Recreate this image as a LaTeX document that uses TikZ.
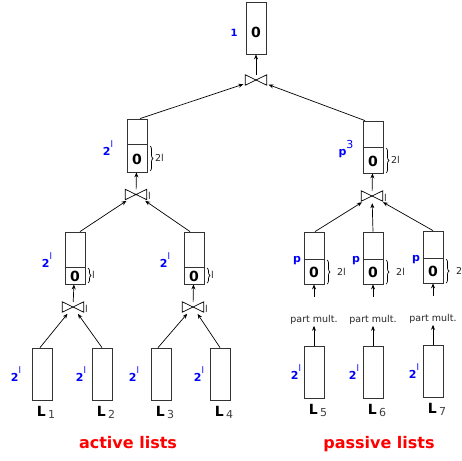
\documentclass[tikz,border=0pt]{standalone}
\usepackage{fontspec}
\setmainfont{DejaVu Sans}
\usetikzlibrary{arrows.meta,calc,decorations.pathreplacing}
\begin{document}
\begin{tikzpicture}[x=1pt,y=-1pt,
  lst/.style={draw=black!80, line width=0.8pt, minimum width=20pt, minimum height=52pt, inner sep=0pt},
  divl/.style={draw=black!80, line width=0.8pt},
  joinbox/.style={minimum width=21pt, minimum height=10pt, inner sep=0pt},
  bow/.style={line width=0.7pt},
  zero/.style={font=\fontsize{14}{14}\selectfont\bfseries, inner sep=0pt},
  cnt/.style={text=blue, font=\fontsize{11}{11}\selectfont\bfseries, inner sep=0pt},
  arr/.style={-{Stealth[length=5pt,width=4pt]}, line width=0.7pt},
  into/.style={arr, shorten >=2pt},
  brc/.style={decorate, decoration={brace, amplitude=3pt}, line width=0.7pt},
  small/.style={font=\fontsize{9.5}{9.5}\selectfont, inner sep=1pt, text=black!85},
  lname/.style={font=\fontsize{14}{14}\selectfont\bfseries, inner sep=0pt},
  title/.style={text=red, font=\fontsize{16}{16}\selectfont\bfseries, inner sep=0pt}
]
\useasboundingbox (0,0) rectangle (462,460);
\newcommand{\sub}[1]{\,\raisebox{-2pt}{\fontsize{11}{11}\selectfont\mdseries\color{black!75}#1}}
\newcommand{\twol}{2\raisebox{8pt}{\fontsize{9}{9}\selectfont\mdseries l}}

% ---------- top ----------
\node[lst] (b0) at (256,28) {};
\node[zero] (z0) at (256,32) {0};
\node[cnt, font=\fontsize{10}{10}\selectfont\bfseries] (c0) at (234,33) {1};
\node[joinbox] (j0) at (256,80) {};
\draw[bow] (j0.south west) -- (j0.north east) -- (j0.south east) -- (j0.north west) -- cycle;
\draw[arr] (j0) -- (b0);

% ---------- level 2 left ----------
\node[lst, minimum height=53pt] (b2l) at (137,145.5) {};
\draw[divl] (b2l.west |- 0,144) -- (b2l.east |- 0,144);
\node[zero] (z2l) at (137,159) {0};
\node[cnt] (c2l) at (108,148) {\twol};
\draw[brc] (150,146) -- (150,171);
\node[small, anchor=west] (s2l) at (154,158) {2l};
\node[joinbox] (j2l) at (136,194.5) {};
\draw[bow] (j2l.south west) -- (j2l.north east) -- (j2l.south east) -- (j2l.north west) -- cycle;
\node[small, anchor=west] (k2l) at (147,196) {l};
\draw[arr] (j2l) -- (b2l);
\draw[into] ([xshift=3pt]b2l.north) -- (j0);

% ---------- level 2 right ----------
\node[lst] (b2r) at (373,147) {};
\draw[divl] (b2r.west |- 0,147) -- (b2r.east |- 0,147);
\node[zero] (z2r) at (373,161) {0};
\node[cnt] (c2r) at (346,149) {p\raisebox{7pt}{\fontsize{11}{11}\selectfont\mdseries 3}};
\draw[brc] (386,148) -- (386,173);
\node[small, anchor=west] (s2r) at (390,160) {2l};
\node[joinbox] (j2r) at (372,196) {};
\draw[bow] (j2r.south west) -- (j2r.north east) -- (j2r.south east) -- (j2r.north west) -- cycle;
\node[small, anchor=west] (k2r) at (383,198) {l};
\draw[arr] (j2r) -- (b2r);
\draw[into] ([xshift=-8pt]b2r.north) -- (j0);

% ---------- level 3 active ----------
\node[lst] (b3a) at (75,258) {};
\draw[divl] (b3a.west |- 0,267) -- (b3a.east |- 0,267);
\node[zero] (z3a) at (75,276) {0};
\node[cnt] (c3a) at (47,260) {\twol};
\draw[brc] (88,268) -- (88,283);
\node[small, anchor=west] (s3a) at (91,275) {l};
\node[joinbox] (j3a) at (73,307) {};
\draw[bow] (j3a.south west) -- (j3a.north east) -- (j3a.south east) -- (j3a.north west) -- cycle;
\node[small, anchor=west] (k3a) at (84,309) {l};
\draw[arr] (j3a) -- (b3a);
\draw[into] ([xshift=5pt]b3a.north) -- (j2l);

\node[lst] (b3b) at (194,258) {};
\draw[divl] (b3b.west |- 0,267) -- (b3b.east |- 0,267);
\node[zero] (z3b) at (194,276) {0};
\node[cnt] (c3b) at (165,260) {\twol};
\draw[brc] (207,268) -- (207,283);
\node[small, anchor=west] (s3b) at (210,275) {l};
\node[joinbox] (j3b) at (193,307) {};
\draw[bow] (j3b.south west) -- (j3b.north east) -- (j3b.south east) -- (j3b.north west) -- cycle;
\node[small, anchor=west] (k3b) at (204,309) {l};
\draw[arr] (j3b) -- (b3b);
\draw[into] ([xshift=-4pt]b3b.north) -- (j2l);

% ---------- level 3 passive ----------
\foreach \n/\x/\y/\bl in {c/314/258/2l, d/373/258/2l, e/433/257/2} {
  \node[lst] (b3\n) at (\x,\y) {};
  \draw[divl] (b3\n.west |- 0,\y+1) -- (b3\n.east |- 0,\y+1);
  \node[zero] (z3\n) at (\x,\y+14) {0};
  \node[cnt] (c3\n) at (\x-17,\y+3) {p};
  \draw[brc] (\x+13,\y+2) -- (\x+13,\y+26);
  \node[small, anchor=west] (s3\n) at (\x+22,\y+14) {\bl};
  \node[small] (pm\n) at (\x,\y+62) {part mult.};
  \draw[arr, shorten <=17pt] (pm\n) -- (b3\n);
}
\draw[into] ([xshift=1pt]b3c.north) -- (j2r);
\draw[into] (b3d.north) -- (j2r);
\draw[into] (b3e.north) -- (j2r);

% ---------- bottom lists ----------
\foreach \i/\x/\y/\lx in {1/42/374/16, 2/102/374/81, 3/161/374/134, 4/220/374/199,
                          5/314/372.5/296, 6/373/372.5/354, 7/433/371.5/414} {
  \node[lst] (L\i) at (\x,\y) {};
  \node[cnt] (cL\i) at (\lx,\y) {\twol};
  \node[lname] (nL\i) at (\x+4,\y+38) {L\sub{\i}};
}
\draw[into] ([xshift=-2pt]L1.north) -- (j3a);
\draw[into] (L2.north) -- (j3a);
\draw[into] ([xshift=-3pt]L3.north) -- (j3b);
\draw[into] (L4.north) -- (j3b);
\draw[arr] (L5) -- (pmc);
\draw[arr] (L6) -- (pmd);
\draw[arr] (L7) -- (pme);

% ---------- titles ----------
\node[title] (ta) at (128,443) {active lists};
\node[title] (tp) at (379,444) {passive lists};
\end{tikzpicture}
\end{document}
